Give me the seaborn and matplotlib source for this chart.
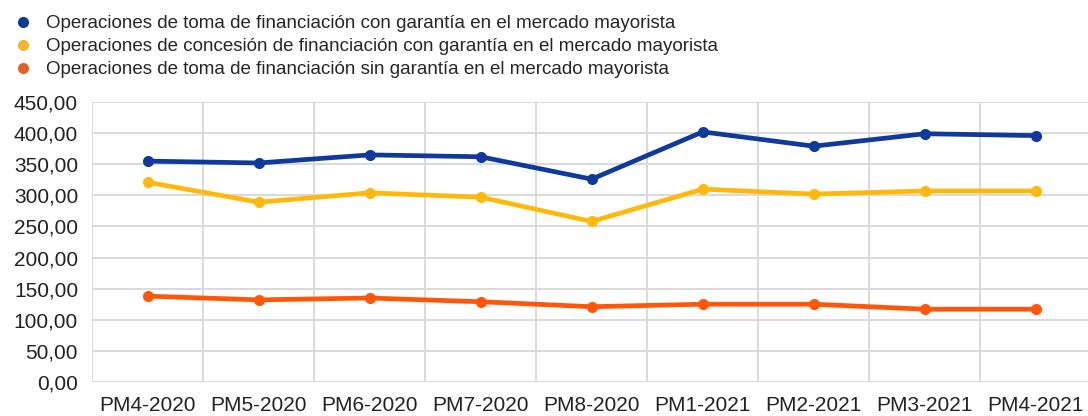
import matplotlib
matplotlib.use("Agg")
import matplotlib.pyplot as plt
from matplotlib.lines import Line2D
import seaborn as sns
import pandas as pd

categories = ["PM4-2020", "PM5-2020", "PM6-2020", "PM7-2020", "PM8-2020",
              "PM1-2021", "PM2-2021", "PM3-2021", "PM4-2021"]
toma_con_garantia = [355, 352, 365, 362, 326, 402, 379, 399, 396]
concesion_con_garantia = [321, 289, 304, 297, 258, 310, 302, 307, 307]
toma_sin_garantia = [138, 132, 135, 129, 121, 125, 125, 117, 117]
series_names = [
    "Operaciones de toma de financiación con garantía en el mercado mayorista",
    "Operaciones de concesión de financiación con garantía en el mercado mayorista",
    "Operaciones de toma de financiación sin garantía en el mercado mayorista",
]
y_ticks = [0, 50, 100, 150, 200, 250, 300, 350, 400, 450]

colors = ["#0f3a9c", "#ffb90c", "#ff560a"]
legend_colors = ["#0d3b91", "#f2b630", "#e0602a"]

sns.set_style("white")
plt.rcParams["font.family"] = ["Liberation Sans", "DejaVu Sans"]

rows = []
for name, vals in zip(series_names, [toma_con_garantia, concesion_con_garantia, toma_sin_garantia]):
    for c, v in zip(categories, vals):
        rows.append({"cat": c, "val": v, "serie": name})
df = pd.DataFrame(rows)

fig = plt.figure(figsize=(10.88, 4.16), dpi=100)
ax = fig.add_axes([92 / 1088, 34 / 416, 996 / 1088, 280 / 416])

sns.lineplot(data=df, x="cat", y="val", hue="serie", palette=colors,
             marker="o", markersize=8, markeredgewidth=0, linewidth=3.4,
             sort=False, legend=False, ax=ax)

ax.set_xlim(-0.5, 8.47)
ax.set_ylim(0, 450)
ax.set_yticks(y_ticks)
ax.set_yticklabels([f"{v:,.2f}".replace(".", ",") for v in y_ticks], fontsize=15, color="#222222")
ax.set_xticks(range(len(categories)))
ax.set_xticklabels(categories, fontsize=15, color="#222222")
ax.set_xlabel("")
ax.set_ylabel("")
ax.tick_params(axis="both", length=0)
ax.tick_params(axis="y", pad=10)
ax.tick_params(axis="x", pad=10)

for y in y_ticks:
    ax.axhline(y, color="#d9d9d9", linewidth=1.4, zorder=0)
for i in range(len(categories)):
    ax.axvline(i - 0.5, color="#d9d9d9", linewidth=1.4, zorder=0)
for s in ax.spines.values():
    s.set_visible(False)

handles = [Line2D([0], [0], marker="o", linestyle="none", markersize=8,
                  markerfacecolor=c, markeredgewidth=0) for c in legend_colors]
fig.legend(handles, series_names, loc="upper left", bbox_to_anchor=(14 / 1088, 1 - 15 / 416),
           frameon=False, fontsize=13.5, handletextpad=0.7, labelspacing=0.32,
           handlelength=1.0, borderaxespad=0, borderpad=0)

fig.savefig("out.png", dpi=100)
